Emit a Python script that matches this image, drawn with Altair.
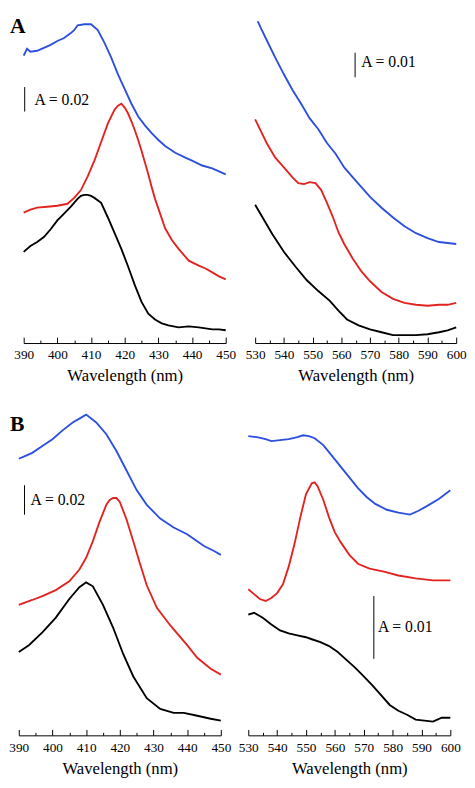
import altair as alt
import pandas as pd

# ---------------- data (absorbance in mA, traces offset as in the figure) -------------
# Panel A, Soret region
a1_blue_nm = [390,391,392,394,396,398,400,402,404,405,406,408,410,412,414,416,418,420,422,424,426,428,430,432,435,438,440,443,446,448,450]
a1_blue = [234.4,240.0,237.6,238.4,240.8,243.2,246.4,248.8,252.8,255.2,259.2,260.0,260.0,255.2,244.8,232.8,219.2,207.2,195.2,184.8,177.6,171.2,165.6,160.8,155.2,151.2,148.8,144.8,142.4,140.0,137.6]
a1_red_nm = [390,392,394,397,400,403,405,407,409,411,413,415,417,418,419,420,421,422,423,424,425,426,427,428,429,430,432,434,436,439,442,444,446,448,450]
a1_red = [106.4,108.8,110.4,111.2,112.0,113.6,118.4,124.8,136.0,148.8,164.0,179.2,190.4,193.6,195.2,192.0,187.2,180.8,173.6,165.6,156.8,147.2,137.6,127.2,117.6,109.6,93.6,84.0,76.8,67.2,63.2,60.8,57.6,54.4,52.0]
a1_black_nm = [390,392,394,396,398,400,402,404,406,407,408,409,410,411,413,415,417,419,421,423,425,427,429,431,433,436,439,442,444,446,448,450]
a1_black = [74.4,79.2,82.4,86.4,92.8,100.0,105.6,111.2,117.6,120.0,120.8,120.8,120.0,118.4,114.4,102.4,89.6,76.8,62.4,47.2,33.6,24.0,19.2,16.0,14.4,12.8,13.6,12.8,12.0,11.2,11.2,10.4]

# Panel A, visible region
a2_blue_nm = [530,532,534,537,540,543,546,549,552,555,558,561,564,567,570,574,578,582,586,590,594,597,600]
a2_blue = [133.6,128.4,123.6,116.4,109.6,103.2,97.6,91.6,87.2,81.6,77.2,71.6,67.6,63.6,59.6,55.2,51.2,47.6,44.8,42.8,41.2,40.8,40.4]
a2_red_nm = [530,532,534,537,540,543,545,547,549,551,553,555,557,559,561,564,567,570,574,578,582,586,590,594,597,600]
a2_red = [91.2,86.4,81.6,75.6,71.6,67.6,65.2,64.8,65.6,65.2,62.4,57.2,51.6,45.2,40.4,34.4,29.2,25.2,20.8,18.0,16.4,15.6,15.2,15.6,15.6,16.4]
a2_black_nm = [530,533,536,540,544,548,552,556,559,562,566,570,574,578,582,586,590,594,597,600]
a2_black = [56.4,50.4,44.4,37.2,31.2,25.6,21.2,17.2,13.2,9.6,7.2,5.6,4.4,3.2,3.2,3.2,3.6,4.4,5.2,6.4]

# Panel B, Soret region
b1_blue_nm = [390,392,394,397,400,403,406,408,410,413,416,419,422,425,428,432,436,440,445,448,450]
b1_blue = [188.0,190.0,192.0,196.7,201.3,207.3,212.7,215.3,218.0,212.7,204.7,193.3,180.0,166.7,156.7,147.3,141.3,136.7,128.7,125.3,122.7]
b1_red_nm = [390,394,397,401,405,408,410,412,414,416,417,418,419,420,422,424,426,428,431,435,440,443,447,450]
b1_red = [88.7,92.0,94.7,98.7,104.7,112.7,120.7,132.0,145.3,156.7,160.0,161.3,161.3,158.7,146.7,132.0,116.7,102.0,86.7,74.7,61.3,52.7,45.3,41.3]
b1_black_nm = [390,393,397,401,405,408,410,412,415,418,421,424,428,432,436,439,443,447,450]
b1_black = [56.7,61.3,70.0,80.0,92.7,100.7,104.0,101.3,88.7,73.3,55.3,40.0,25.3,18.0,15.3,15.3,13.3,11.3,10.0]

# Panel B, visible region
b2_blue_nm = [530,533,536,538,541,544,547,549,551,553,556,559,562,565,568,571,574,578,582,586,589,592,596,600]
b2_blue = [47.66,47.50,47.19,46.88,47.03,47.19,47.50,47.81,47.66,47.34,46.25,44.53,42.81,41.09,39.38,37.97,36.88,35.94,35.47,35.16,35.78,36.56,37.66,39.06]
b2_red_nm = [530,532,534,536,538,540,542,544,546,548,550,552,553,554,556,558,560,562,565,568,572,577,582,588,594,600]
b2_red = [23.28,22.50,21.72,21.41,21.88,22.66,24.06,26.88,30.47,34.69,38.44,40.16,40.31,39.69,37.50,34.69,32.34,30.78,28.75,27.34,26.56,26.09,25.47,25.00,24.69,24.69]
b2_black_nm = [530,532,535,538,541,544,547,550,552,555,558,561,564,567,570,573,576,579,582,585,588,591,594,597,600]
b2_black = [19.22,19.53,18.75,17.66,16.72,16.25,15.94,15.63,15.31,14.84,14.22,13.28,12.03,10.78,9.38,7.97,6.41,4.84,3.91,3.28,2.50,2.34,2.19,2.81,2.81]

soret_ticks = [390, 400, 410, 420, 430, 440, 450]
soret_minor = [395, 405, 415, 425, 435, 445]
vis_ticks = [530, 540, 550, 560, 570, 580, 590, 600]
vis_minor = [535, 545, 555, 565, 575, 585, 595]

SERIF = "Liberation Serif"
TRACES = ["blue", "red", "black"]
COLORS = ["#2c4fe0", "#e3231f", "#000000"]


def long_df(blue_nm, blue, red_nm, red, black_nm, black):
    rows = []
    for name, xs, ys in [("blue", blue_nm, blue), ("red", red_nm, red), ("black", black_nm, black)]:
        for x, y in zip(xs, ys):
            rows.append({"trace": name, "nm": x, "mA": y})
    return pd.DataFrame(rows)


def panel(df, x_dom, x_rng, y_top, W, H, major, minor, bar, letter=None, letter_y=0):
    xs = alt.Scale(domain=x_dom, range=x_rng, nice=False, zero=False)
    ys = alt.Scale(domain=[0, y_top], nice=False, zero=False)
    lines = alt.Chart(df).mark_line(strokeWidth=1.9, clip=True).encode(
        x=alt.X("nm:Q", scale=xs,
                axis=alt.Axis(orient="bottom", values=major, ticks=False, tickSize=0,
                              labelPadding=5, labelFlush=False, labelOverlap=False,
                              labelFont=SERIF, labelFontSize=13.5, labelColor="black",
                              format="d", grid=False, domainColor="black", domainWidth=1,
                              title="Wavelength (nm)", titlePadding=7, titleFont=SERIF,
                              titleFontSize=17, titleFontWeight="normal", titleColor="black")),
        y=alt.Y("mA:Q", scale=ys, axis=None),
        color=alt.Color("trace:N", scale=alt.Scale(domain=TRACES, range=COLORS), legend=None),
        detail="trace:N",
    )
    bar_df = pd.DataFrame({"nm": [bar[0]], "y0": [bar[1]], "y1": [bar[2]]})
    rule = alt.Chart(bar_df).mark_rule(color="black", strokeWidth=1).encode(
        x=alt.X("nm:Q", scale=xs,
                axis=alt.Axis(orient="top", offset=-H, values=major, tickSize=6, labels=False,
                              domain=False, grid=False, title=None, tickColor="black", tickWidth=1)),
        y=alt.Y("y0:Q", scale=ys, axis=None),
        y2="y1:Q",
    )
    txt_df = pd.DataFrame({"nm": [bar[3]], "mA": [bar[4]], "t": [bar[5]]})
    txt = alt.Chart(txt_df).mark_text(align="left", baseline="middle", font=SERIF, fontSize=16,
                                      color="black").encode(
        x=alt.X("nm:Q", scale=xs,
                axis=alt.Axis(orient="top", offset=-H, values=minor, tickSize=3, labels=False,
                              domain=False, grid=False, title=None, tickColor="black", tickWidth=1)),
        y=alt.Y("mA:Q", scale=ys, axis=None),
        text="t:N",
    )
    layers = [lines, rule, txt]
    if letter:
        lab = alt.Chart(pd.DataFrame({"t": [letter]})).mark_text(
            align="left", baseline="alphabetic", font=SERIF, fontSize=22, fontWeight="bold",
            color="black").encode(text="t:N", x=alt.value(0), y=alt.value(letter_y))
        layers.append(lab)
    return alt.layer(*layers).resolve_axis(x="independent").properties(width=W, height=H)


WL, WR = 236, 223
HA, HB = 328, 339

pAL = panel(long_df(a1_blue_nm, a1_blue, a1_red_nm, a1_red, a1_black_nm, a1_black),
            [390, 450], [14, 220], 262.4, WL, HA, soret_ticks, soret_minor,
            (390.3, 188.8, 208.8, 393.2, 198.4, "A = 0.02"), letter="A", letter_y=12)
pAR = panel(long_df(a2_blue_nm, a2_blue, a2_red_nm, a2_red, a2_black_nm, a2_black),
            [530, 600], [14, 219], 131.2, WR, HA, vis_ticks, vis_minor,
            (564.8, 108.4, 118.4, 566.9, 114.4, "A = 0.01"))
pBL = panel(long_df(b1_blue_nm, b1_blue, b1_red_nm, b1_red, b1_black_nm, b1_black),
            [390, 450], [9, 215], 226.0, WL, HB, soret_ticks, soret_minor,
            (391.7, 150.0, 170.0, 393.5, 160.0, "A = 0.02"), letter="B", letter_y=29)
pBR = panel(long_df(b2_blue_nm, b2_blue, b2_red_nm, b2_red, b2_black_nm, b2_black),
            [530, 600], [7, 213], 52.97, WR, HB, vis_ticks, vis_minor,
            (573.5, 12.19, 22.19, 574.9, 17.19, "A = 0.01"))

chart = alt.concat(pAL, pAR, pBL, pBR, columns=2, spacing={"row": 61, "column": 0},
                   bounds="flush").properties(padding=0).configure_view(stroke=None)

chart.save("out.html", embed_options={"renderer": "svg", "actions": False})
